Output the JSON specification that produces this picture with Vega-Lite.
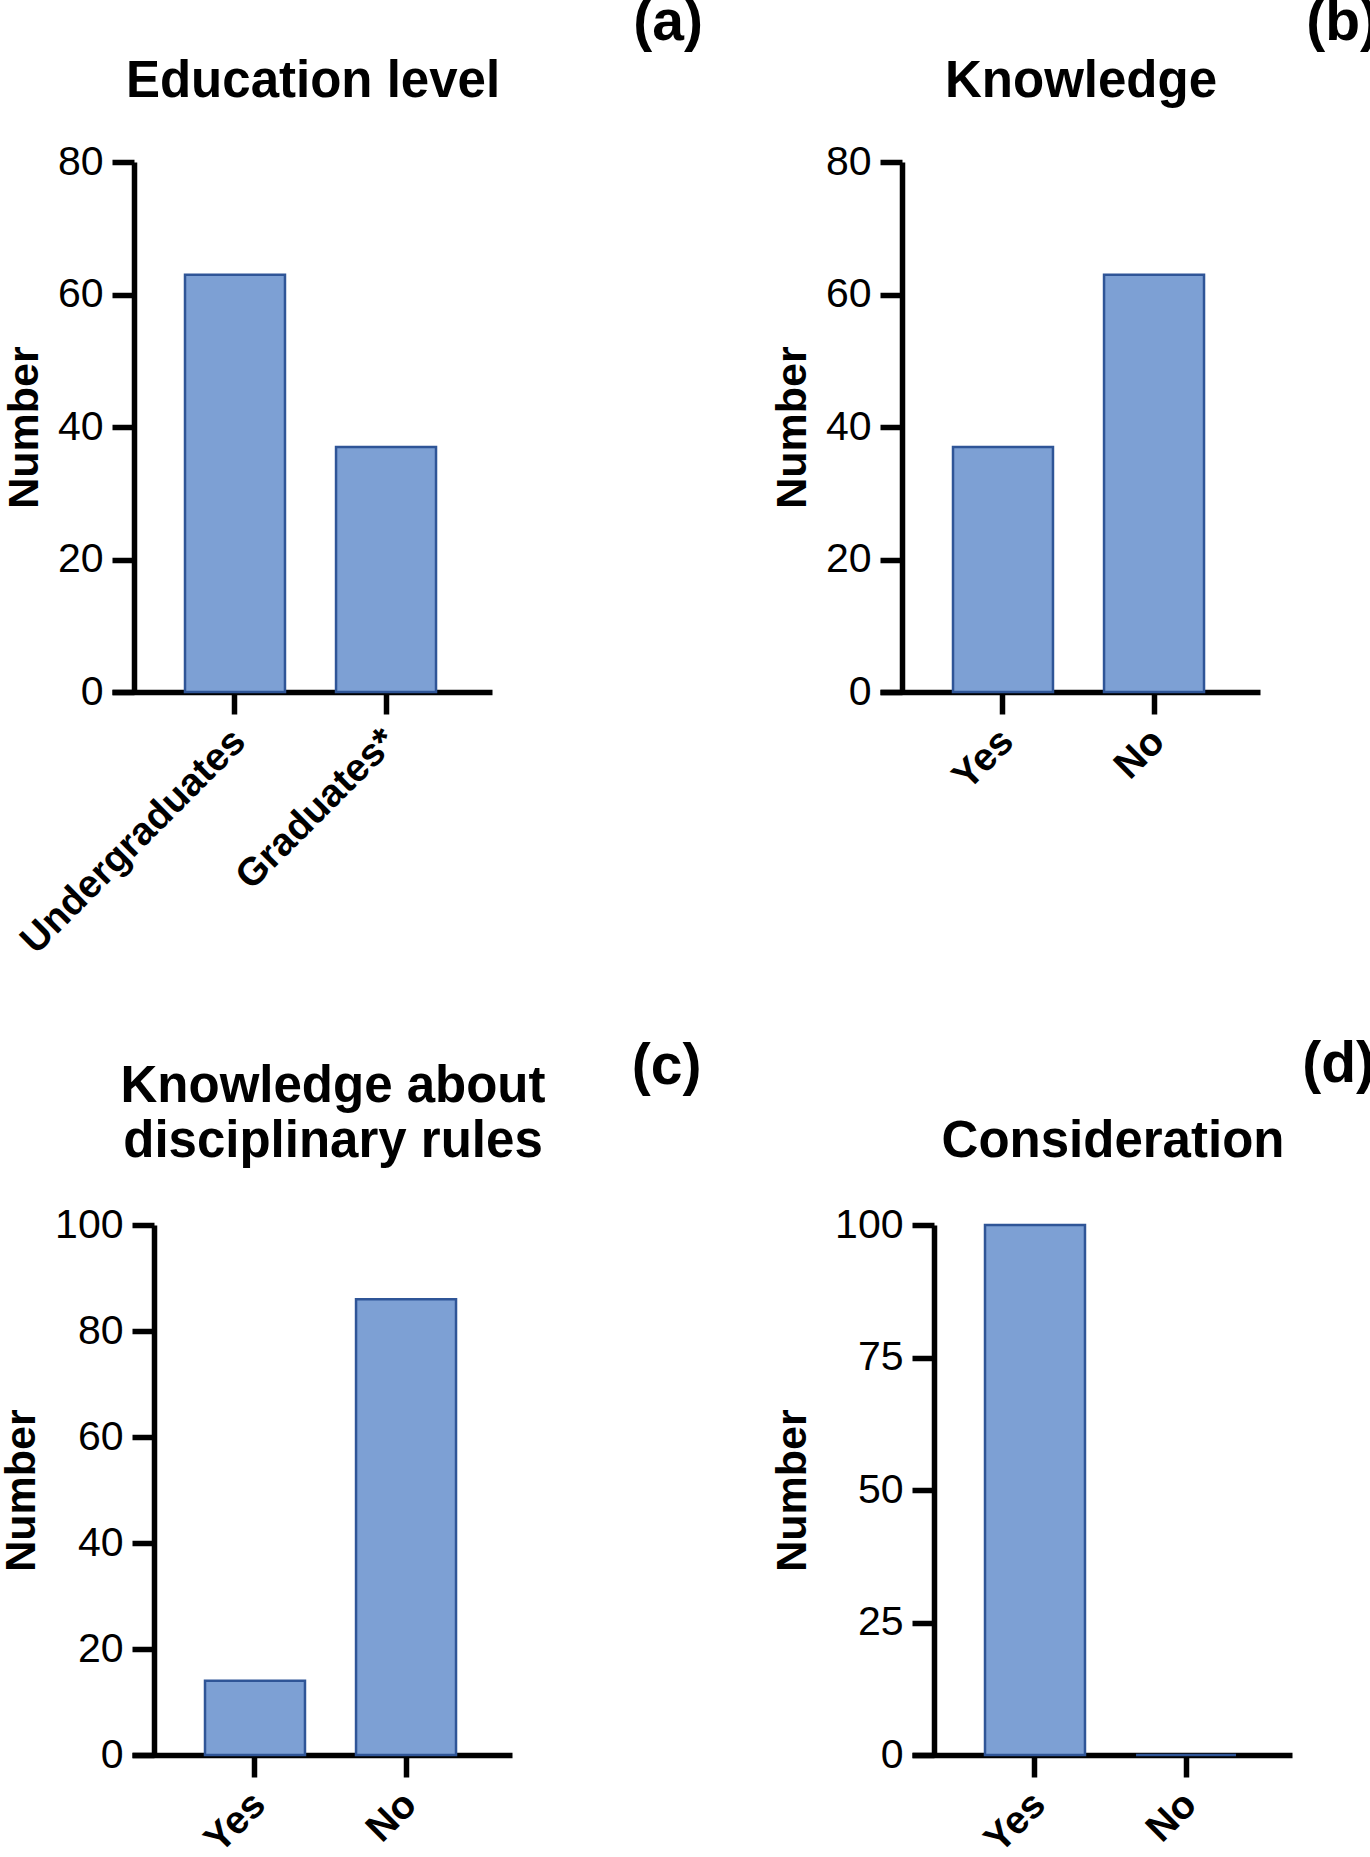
{
  "$schema": "https://vega.github.io/schema/vega-lite/v6.json",
  "background": "white",
  "padding": {"left": 0, "top": -6, "right": 0, "bottom": 0},
  "config": {
    "view": {"stroke": null},
    "font": "Liberation Sans",
    "axis": {
      "grid": false,
      "domainColor": "black",
      "domainWidth": 5.5,
      "tickColor": "black",
      "tickWidth": 5.5,
      "tickSize": 22,
      "labelColor": "black",
      "titleColor": "black",
      "labelFont": "Liberation Sans",
      "titleFont": "Liberation Sans",
      "labelLimit": 0
    },
    "axisY": {
      "offset": -22,
      "labelFontSize": 41,
      "labelFontWeight": "normal",
      "labelPadding": 9,
      "titleFontSize": 43,
      "titleFontWeight": "bold",
      "titlePadding": 11
    },
    "axisX": {
      "labelAngle": -45,
      "labelFontSize": 39,
      "labelFontWeight": "bold",
      "labelBaseline": "middle",
      "labelAlign": "right",
      "labelPadding": 21,
      "labelOffset": 4
    },
    "bar": {"fill": "#7da0d4", "stroke": "#2f5597", "strokeWidth": 2.5}
  },
  "datasets": {
    "education": [
      {"group": "Undergraduates", "count": 63},
      {"group": "Graduates*", "count": 37}
    ],
    "knowledge": [
      {"group": "Yes", "count": 37},
      {"group": "No", "count": 63}
    ],
    "rules": [
      {"group": "Yes", "count": 14},
      {"group": "No", "count": 86}
    ],
    "consideration": [
      {"group": "Yes", "count": 100},
      {"group": "No", "count": 0}
    ]
  },
  "columns": 2,
  "align": {"row": "each", "column": "none"},
  "spacing": {"row": 75, "column": 68},
  "concat": [
    {
      "title": {"text": "(a)", "anchor": "end", "fontSize": 57, "fontWeight": "bold", "color": "black", "dx": 191, "offset": 4},
      "vconcat": [
        {
          "width": 360,
          "height": 530,
          "title": {"text": "Education level", "anchor": "middle", "frame": "group", "dx": 1, "offset": 33, "fontSize": 51, "fontWeight": "bold", "color": "black"},
          "data": {"name": "education"},
          "mark": {"type": "bar"},
          "encoding": {
            "x": {"field": "group", "type": "nominal", "sort": null,
                  "scale": {"range": [-20, 360], "paddingInner": 0.338, "paddingOuter": 0.427, "align": 0.566},
                  "axis": {"title": null}},
            "y": {"field": "count", "type": "quantitative",
                  "scale": {"domain": [0, 80]},
                  "axis": {"title": "Number", "offset": -2, "values": [0, 20, 40, 60, 80]}}
          }
        }
      ]
    },
    {
      "title": {"text": "(b)", "anchor": "end", "fontSize": 57, "fontWeight": "bold", "color": "black", "dx": 119, "offset": 4},
      "vconcat": [
        {
          "width": 380,
          "height": 530,
          "title": {"text": "Knowledge", "anchor": "middle", "frame": "group", "dx": 11, "offset": 33, "fontSize": 51, "fontWeight": "bold", "color": "black"},
          "data": {"name": "knowledge"},
          "mark": {"type": "bar"},
          "encoding": {
            "x": {"field": "group", "type": "nominal", "sort": null,
                  "scale": {"paddingInner": 0.338, "paddingOuter": 0.427, "align": 0.566},
                  "axis": {"title": null}},
            "y": {"field": "count", "type": "quantitative",
                  "scale": {"domain": [0, 80]},
                  "axis": {"title": "Number", "values": [0, 20, 40, 60, 80]}}
          }
        }
      ]
    },
    {
      "title": {"text": "(c)", "anchor": "end", "fontSize": 57, "fontWeight": "bold", "color": "black", "dx": 156, "offset": -35},
      "vconcat": [
        {
          "width": 380,
          "height": 530,
          "title": {"text": ["Knowledge about", "disciplinary rules"], "anchor": "middle", "frame": "group", "dx": 11, "offset": 36, "fontSize": 51, "lineHeight": 55, "fontWeight": "bold", "color": "black"},
          "data": {"name": "rules"},
          "mark": {"type": "bar"},
          "encoding": {
            "x": {"field": "group", "type": "nominal", "sort": null,
                  "scale": {"paddingInner": 0.338, "paddingOuter": 0.427, "align": 0.566},
                  "axis": {"title": null}},
            "y": {"field": "count", "type": "quantitative",
                  "scale": {"domain": [0, 100]},
                  "axis": {"title": "Number", "values": [0, 20, 40, 60, 80, 100]}}
          }
        }
      ]
    },
    {
      "title": {"text": "(d)", "anchor": "end", "fontSize": 57, "fontWeight": "bold", "color": "black", "dx": 83, "offset": 22},
      "vconcat": [
        {
          "width": 380,
          "height": 530,
          "title": {"text": "Consideration", "anchor": "middle", "frame": "group", "dx": 11, "offset": 36, "fontSize": 51, "fontWeight": "bold", "color": "black"},
          "data": {"name": "consideration"},
          "mark": {"type": "bar"},
          "encoding": {
            "x": {"field": "group", "type": "nominal", "sort": null,
                  "scale": {"paddingInner": 0.338, "paddingOuter": 0.427, "align": 0.566},
                  "axis": {"title": null}},
            "y": {"field": "count", "type": "quantitative",
                  "scale": {"domain": [0, 100]},
                  "axis": {"title": "Number", "titlePadding": 20, "values": [0, 25, 50, 75, 100]}}
          }
        }
      ]
    }
  ]
}
